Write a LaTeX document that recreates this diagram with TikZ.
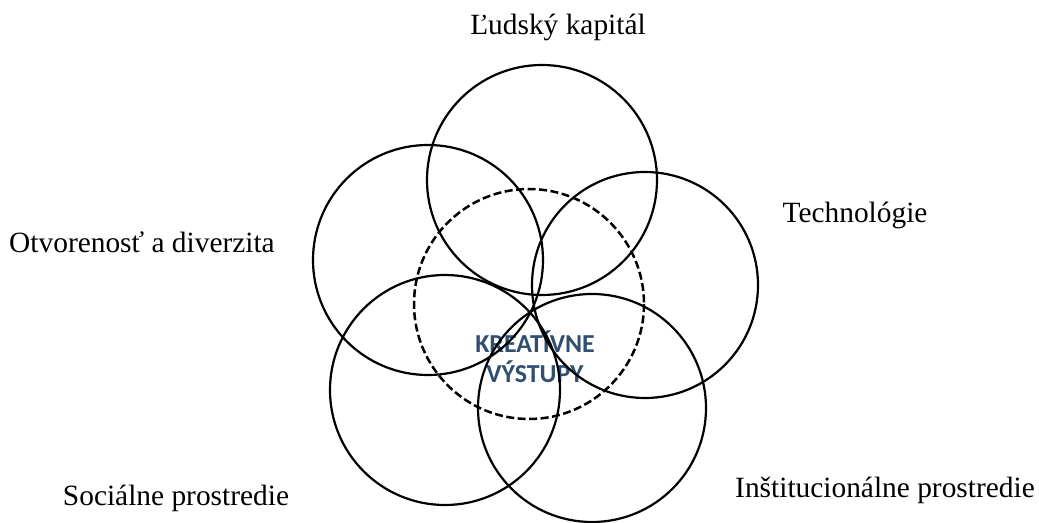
\documentclass[tikz,border=0pt]{standalone}
\usepackage{fontspec}
\setmainfont{Liberation Serif}
\newfontfamily\calib{Carlito}
\definecolor{kreablue}{RGB}{47,78,112}
\begin{document}
\begin{tikzpicture}[x=1bp,y=-1bp,
  ring/.style={draw=black,line width=2.2bp},
  dashring/.style={draw=black,line width=2.5bp,dash pattern=on 8bp off 3.5bp},
  lab/.style={font=\fontsize{29.5}{32}\selectfont,inner sep=0pt,anchor=base},
  core/.style={font=\calib\bfseries\fontsize{26}{30}\selectfont,text=kreablue,align=center,inner sep=0pt}]
\useasboundingbox (0,0) rectangle (1039,523);
\node[core] (center) at (535,357) {KREATÍVNE\\VÝSTUPY};
\draw[ring] (542,180) circle (115) coordinate (c1);
\draw[ring] (428,260) circle (115) coordinate (c2);
\draw[ring] (645,285) circle (113) coordinate (c3);
\draw[ring] (445,390) circle (115) coordinate (c4);
\draw[ring] (592,408) circle (114) coordinate (c5);
\draw[dashring] (529,304) circle (115) coordinate (c0);
\node[lab] (ludsky) at (558,35) {Ľudský kapitál};
\node[lab] (otvor) at (142,253) {Otvorenosť a diverzita};
\node[lab] (techno) at (855,223) {Technológie};
\node[lab] (social) at (176,505) {Sociálne prostredie};
\node[lab] (instit) at (885,497) {Inštitucionálne prostredie};
\end{tikzpicture}
\end{document}
